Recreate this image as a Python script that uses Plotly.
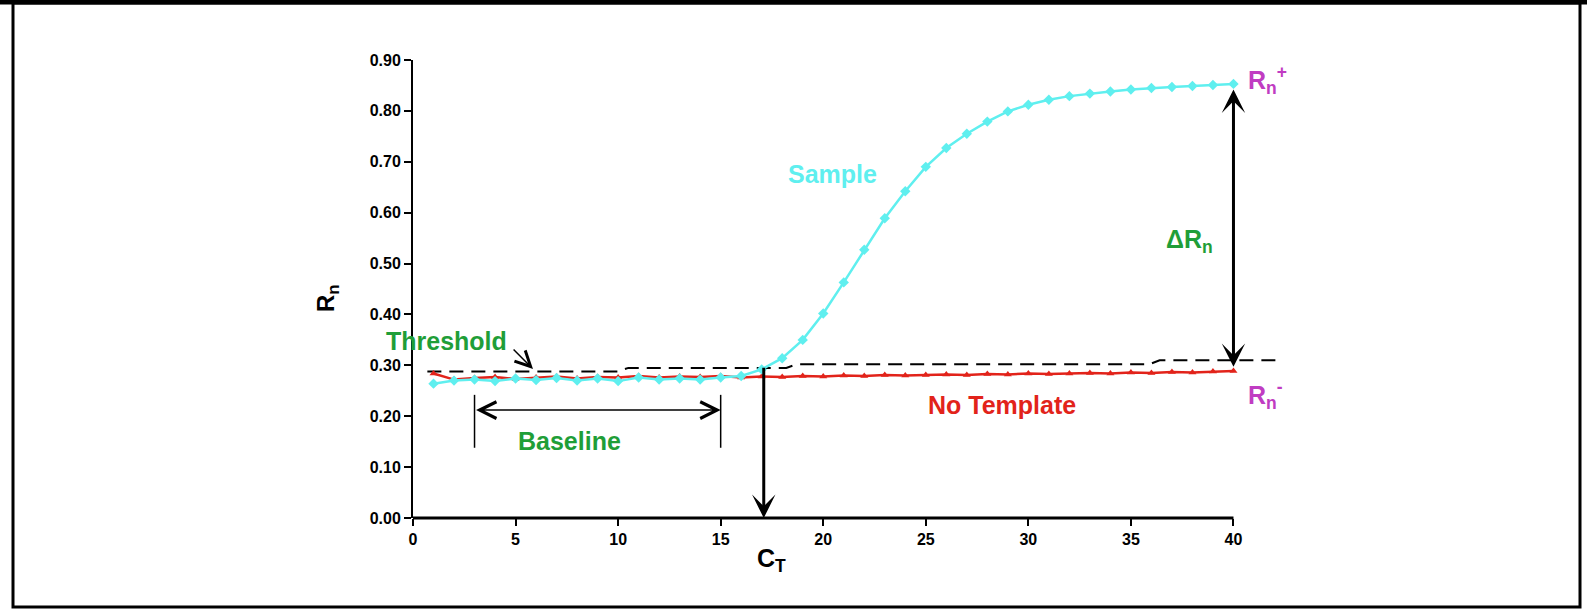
import plotly.graph_objects as go

# ---- data ----
cycles = list(range(1, 41))
sample = [0.264, 0.270, 0.272, 0.269, 0.274, 0.271, 0.275, 0.270, 0.274, 0.269,
          0.276, 0.272, 0.274, 0.272, 0.276, 0.279, 0.292, 0.314, 0.350, 0.402,
          0.463, 0.527, 0.589, 0.642, 0.690, 0.727, 0.755, 0.779, 0.799, 0.812,
          0.822, 0.829, 0.834, 0.838, 0.842, 0.845, 0.847, 0.849, 0.851, 0.853]
no_template = [0.284, 0.272, 0.275, 0.277, 0.273, 0.276, 0.278, 0.274, 0.277, 0.276,
               0.279, 0.276, 0.278, 0.277, 0.279, 0.276, 0.278, 0.277, 0.279, 0.278,
               0.280, 0.279, 0.281, 0.280, 0.281, 0.282, 0.281, 0.283, 0.282, 0.284,
               0.283, 0.284, 0.285, 0.284, 0.286, 0.285, 0.287, 0.286, 0.288, 0.289]
threshold_x = [0.7, 10.0, 10.5, 18.2, 18.7, 35.9, 36.4, 42.2]
threshold_y = [0.288, 0.288, 0.295, 0.295, 0.302, 0.302, 0.310, 0.310]
x_ticks = [0, 5, 10, 15, 20, 25, 30, 35, 40]
y_ticks = [0.0, 0.1, 0.2, 0.3, 0.4, 0.5, 0.6, 0.7, 0.8, 0.9]
ct_value = 17.1
ct_top = 0.298
baseline_start, baseline_end = 3, 15
baseline_level = 0.212
baseline_bar = (0.138, 0.242)
delta_top, delta_bottom = 0.845, 0.297

CYAN = "#5FEFEF"
RED = "#E2231A"
GREEN = "#1F9E38"
MAGENTA = "#C03CC2"
FONT = "Liberation Sans, Arial, sans-serif"

# pixel layout helpers (plot area 413..1295 x 60..518)
L, R, T, B = 413, 292, 60, 96
W, H = 1587, 614
PW, PH = W - L - R, H - T - B


def px(xp):
    return (xp - L) / PW


def py(yp):
    return (H - B - yp) / PH


fig = go.Figure()
fig.add_trace(go.Scatter(x=threshold_x, y=threshold_y, mode="lines",
                         line=dict(color="black", width=2, dash="14px,8px"),
                         hoverinfo="skip", showlegend=False))
fig.add_trace(go.Scatter(x=cycles, y=no_template, mode="lines+markers",
                         line=dict(color=RED, width=2.5),
                         marker=dict(symbol="triangle-up", size=7, color=RED),
                         showlegend=False))
fig.add_trace(go.Scatter(x=cycles, y=sample, mode="lines+markers",
                         line=dict(color=CYAN, width=2.5),
                         marker=dict(symbol="diamond", size=8, color=CYAN),
                         showlegend=False))

shapes = [
    # x axis line from 0 to 40
    dict(type="line", xref="x", yref="paper", x0=0, x1=40, y0=0, y1=0,
         line=dict(color="black", width=3)),
    # baseline bracket verticals
    dict(type="line", xref="x", yref="y", x0=baseline_start, x1=baseline_start,
         y0=baseline_bar[0], y1=baseline_bar[1], line=dict(color="black", width=1.5)),
    dict(type="line", xref="x", yref="y", x0=baseline_end, x1=baseline_end,
         y0=baseline_bar[0], y1=baseline_bar[1], line=dict(color="black", width=1.5)),
    # border frame
    dict(type="rect", xref="paper", yref="paper", x0=px(13), x1=px(1580),
         y0=py(607), y1=py(3), line=dict(color="black", width=3)),
    dict(type="line", xref="paper", yref="paper", x0=px(0), x1=px(1587),
         y0=py(2), y1=py(2), line=dict(color="black", width=5)),
]

anns = [
    # Ct arrow
    dict(x=ct_value, y=0.0, ax=ct_value, ay=ct_top, xref="x", yref="y",
         axref="x", ayref="y", text="", showarrow=True, arrowhead=3,
         arrowsize=1.3, arrowwidth=3, arrowcolor="black"),
    # delta Rn arrow
    dict(x=40, y=delta_bottom, ax=40, ay=delta_top, xref="x", yref="y",
         axref="x", ayref="y", text="", showarrow=True, arrowhead=3,
         startarrowhead=3, arrowside="end+start", arrowsize=1.3,
         startarrowsize=1.3, arrowwidth=3, arrowcolor="black"),
    # baseline arrow
    dict(x=baseline_end, y=baseline_level, ax=baseline_start, ay=baseline_level,
         xref="x", yref="y", axref="x", ayref="y", text="", showarrow=True,
         arrowhead=5, startarrowhead=5, arrowside="end+start", arrowsize=2.2,
         startarrowsize=2.2, arrowwidth=1.5, arrowcolor="black"),
    # threshold pointer
    dict(x=5.85, y=0.293, ax=4.83, ay=0.334, xref="x", yref="y",
         axref="x", ayref="y", text="", showarrow=True, arrowhead=5,
         arrowsize=2, arrowwidth=1.5, arrowcolor="black"),
]


def label(text, xp, yp, color, size=25, xanchor="center", angle=0):
    anns.append(dict(text=text, x=px(xp), y=py(yp), xref="paper", yref="paper",
                     showarrow=False, xanchor=xanchor, yanchor="middle",
                     textangle=angle,
                     font=dict(family=FONT, size=size, color=color, weight="bold")))


label("Threshold", 446, 341, GREEN)
label("Baseline", 569, 441, GREEN)
label("Sample", 832, 174, CYAN)
label("No Template", 1002, 405, RED)
label("ΔR<sub>n</sub>", 1189, 241, GREEN)
label("R<sub>n</sub><sup>+</sup>", 1246, 80, MAGENTA, xanchor="left")
label("R<sub>n</sub><sup>-</sup>", 1246, 395, MAGENTA, xanchor="left")
label("C<sub>T</sub>", 771, 560, "black", size=25)
label("R<sub>n</sub>", 327, 298, "black", size=24, angle=-90)

fig.update_layout(
    width=W, height=H,
    margin=dict(l=L, r=R, t=T, b=B, pad=0),
    paper_bgcolor="white", plot_bgcolor="white",
    shapes=shapes, annotations=anns, showlegend=False,
    xaxis=dict(range=[0, 43], tickmode="array", tickvals=x_ticks,
               ticks="outside", ticklen=7, tickwidth=2, tickcolor="black",
               showline=False, showgrid=False, zeroline=False,
               tickfont=dict(family=FONT, size=16, color="black", weight="bold")),
    yaxis=dict(range=[0, 0.9], tickmode="array", tickvals=y_ticks,
               ticktext=[f"{v:.2f}" for v in y_ticks],
               ticks="outside", ticklen=7, tickwidth=2, tickcolor="black",
               showline=True, linewidth=2, linecolor="black",
               showgrid=False, zeroline=False,
               tickfont=dict(family=FONT, size=16, color="black", weight="bold")),
)

fig.write_html("out.html", config={"displayModeBar": False},
               post_script="document.body.style.margin='0';document.body.style.overflow='hidden';")
